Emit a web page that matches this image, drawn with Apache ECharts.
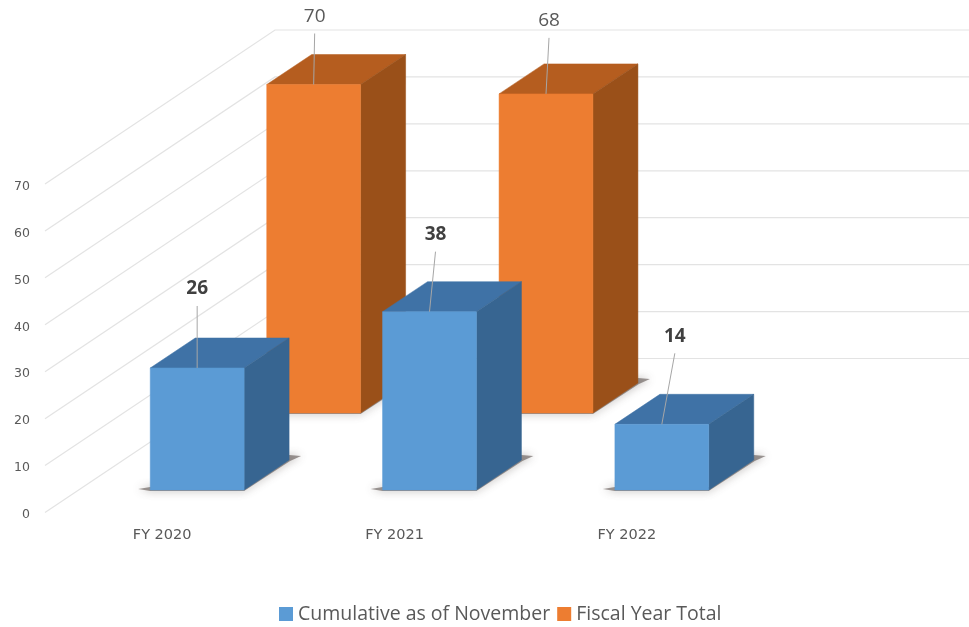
<!DOCTYPE html>
<html>
<head>
<meta charset="utf-8">
<style>html,body{margin:0;padding:0;background:#fff}#c{width:969px;height:627px}</style>
<script src="https://cdn.jsdelivr.net/npm/echarts@6/dist/echarts.min.js"></script>
</head>
<body>
<div id="c"></div>
<script>
const categories = ['FY 2020', 'FY 2021', 'FY 2022'];
const cumulativeValues = [26, 38, 14];
const fiscalTotalValues = [70, 68];
const gridTicks = [0, 10, 20, 30, 40, 50, 60, 70];

// leader-line offsets from the top of each bar
const cumulativeLeaders = [[0, -62], [6, -60], [13, -71]];
const fiscalLeaders = [[1, -51], [3, -56]];

const FONT = '"Open Sans", sans-serif';
const AXIS_FONT = '"DejaVu Sans", sans-serif';
const DEPTH_X = 45, DEPTH_Y = -30, WALL_X = 229, WALL_Y = -154;

function barRenderer(cfg) {
  return function (params, api) {
    const i = api.value(0), v = api.value(1);
    const base = api.coord([i, 0]), top = api.coord([i, v]);
    const w = api.size([1, 0])[0] * 0.404;
    const x0 = base[0] + cfg.shiftX - w / 2, x1 = x0 + w;
    const yb = base[1] + cfg.shiftY, yt = top[1] + cfg.shiftY;
    const dx = DEPTH_X, dy = DEPTH_Y;
    const lead = cfg.leaders[params.dataIndex];
    const cx = (x0 + x1) / 2;
    const poly = (pts, fill) => ({ type: 'polygon', silent: true, shape: { points: pts },
      style: { fill: fill, stroke: fill, lineWidth: 0.5 } });
    return {
      type: 'group',
      children: [
        { type: 'polygon', silent: true,
          shape: { points: [[x0 - 12, yb - 1], [x0, yb + 1], [x1, yb + 1], [x1 + dx + 1, yb + dy + 1],
            [x1 + dx + 12, yb + dy - 4], [x1 + dx, yb + dy - 5], [x1, yb - 3], [x0, yb - 3]] },
          style: { fill: 'rgba(80,70,65,0.55)', shadowBlur: 8, shadowColor: 'rgba(80,70,65,0.8)' } },
        poly([[x0, yt], [x0 + dx, yt + dy], [x1 + dx, yt + dy], [x1, yt]], cfg.top),
        poly([[x1, yt], [x1 + dx, yt + dy], [x1 + dx, yb + dy], [x1, yb]], cfg.side),
        poly([[x0, yt], [x1, yt], [x1, yb], [x0, yb]], cfg.front),
        { type: 'line', silent: true, shape: { x1: cx, y1: yt, x2: cx + lead[0], y2: yt + lead[1] },
          style: { stroke: '#a6a6a6', lineWidth: 1 } },
        { type: 'text', silent: true, style: {
            text: String(v), x: cx + lead[0], y: yt + lead[1] - 17,
            align: 'center', verticalAlign: 'middle',
            fontFamily: FONT, fontSize: 19, fontWeight: cfg.labelWeight, fill: cfg.labelColor } }
      ]
    };
  };
}

function gridRenderer(params, api) {
  const v = api.value(0);
  const c = api.coord([0, v]);
  const x = params.coordSys.x - 1, y = c[1];
  return {
    type: 'polyline', silent: true,
    shape: { points: [[x, y], [x + WALL_X + 1, y + WALL_Y], [969, y + WALL_Y]] },
    style: { stroke: '#e3e3e3', lineWidth: 1.2, fill: null }
  };
}

const chart = echarts.init(document.getElementById('c'), null, { renderer: 'canvas' });
chart.setOption({
  animation: false,
  backgroundColor: '#fff',
  grid: { left: 46, top: 184, width: 697, height: 328.5 },
  xAxis: {
    type: 'category', data: categories,
    axisLine: { show: false }, axisTick: { show: false }, splitLine: { show: false },
    axisLabel: { color: '#595959', fontFamily: AXIS_FONT, fontSize: 14.5, margin: 15 }
  },
  yAxis: {
    type: 'value', min: 0, max: 70, interval: 10,
    axisLine: { show: false }, axisTick: { show: false }, splitLine: { show: false },
    axisLabel: { color: '#595959', fontFamily: AXIS_FONT, fontSize: 12.5, margin: 16, verticalAlign: 'top', lineHeight: 5 }
  },
  legend: {
    data: ['Cumulative as of November', 'Fiscal Year Total'],
    left: 274, top: 599, icon: 'rect', itemWidth: 14, itemHeight: 14, itemGap: 7,
    textStyle: { color: '#595959', fontFamily: FONT, fontSize: 19.5 }
  },
  series: [
    { name: 'gridlines', type: 'custom', z: 1, silent: true,
      renderItem: gridRenderer, data: gridTicks.map(t => [t]), encode: { y: 0 } },
    { name: 'Cumulative as of November', type: 'custom', z: 4, silent: true,
      itemStyle: { color: '#5B9BD5' },
      renderItem: barRenderer({ shiftX: 35, shiftY: -22.5, front: '#5B9BD5', top: '#3F72A6', side: '#376591',
        leaders: cumulativeLeaders, labelWeight: 'bold', labelColor: '#404040' }),
      data: cumulativeValues.map((v, i) => [i, v]), encode: { x: 0, y: 1 } },
    { name: 'Fiscal Year Total', type: 'custom', z: 3, silent: true,
      itemStyle: { color: '#ED7D31' },
      renderItem: barRenderer({ shiftX: 151.5, shiftY: -99.5, front: '#ED7D31', top: '#B55D1F', side: '#9A5019',
        leaders: fiscalLeaders, labelWeight: 'normal', labelColor: '#595959' }),
      data: fiscalTotalValues.map((v, i) => [i, v]), encode: { x: 0, y: 1 } }
  ]
});
</script>
</body>
</html>
